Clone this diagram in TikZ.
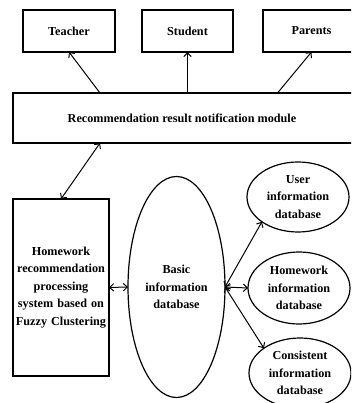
\documentclass[tikz,border=0pt]{standalone}
\usepackage{fontspec}
\setmainfont{Liberation Serif}
\usetikzlibrary{shapes.geometric,arrows.meta}
\tikzset{
  lbl/.style={font=\bfseries\fontsize{12.2}{17.4}\selectfont, align=center},
  rbox/.style={lbl, draw, line width=1.2pt, rectangle, inner sep=0pt, outer sep=0pt},
  ebox/.style={lbl, draw, line width=1.2pt, ellipse, inner sep=0pt, outer sep=0pt},
  arr/.style={line width=1pt, -{Straight Barb[length=4pt,width=7.5pt]}},
  darr/.style={line width=1pt, {Straight Barb[length=4pt,width=7.5pt]}-{Straight Barb[length=4pt,width=7.5pt]}}
}
\begin{document}
\begin{tikzpicture}[x=1pt,y=-1pt]
\useasboundingbox (0,0) rectangle (351,403);
\clip (0,0) rectangle (351,403);
\fill[white] (0,0) rectangle (351,403);
\node[rbox, minimum width=92pt, minimum height=42pt] (teacher) at (69,31) {Teacher};
\node[rbox, minimum width=91pt, minimum height=42pt] (student) at (187.5,31) {Student};
\node[rbox, minimum width=97pt, minimum height=42pt] (parents) at (311.5,31) {Parents};
\node[rbox, minimum width=347pt, minimum height=50pt, anchor=north west] (mod) at (13,93) {};
\node[lbl] (modtext) at (182,118) {Recommendation result notification module};
\node[rbox, minimum width=96pt, minimum height=177pt, text width=94pt] (hw) at (61,287.5)
  {Homework\\recommendation\\processing\\system based on\\Fuzzy Clustering};
\node[ebox, minimum width=97pt, minimum height=221pt] (basic) at (176.5,287)
  {Basic\\information\\database};
\node[ebox, minimum width=102pt, minimum height=70pt] (user) at (298,197)
  {User\\information\\database};
\node[ebox, minimum width=102pt, minimum height=72pt] (hwinfo) at (299,288)
  {Homework\\information\\database};
\node[ebox, minimum width=102pt, minimum height=70pt] (cons) at (300,373)
  {Consistent\\information\\database};

\draw[arr] ([xshift=31pt]teacher.south |- mod.north) -- (teacher.south);
\draw[arr] (student.south |- mod.north) -- (student.south);
\draw[arr] ([xshift=-34pt]parents.south |- mod.north) -- (parents.south);
\draw[darr] ([xshift=39pt]hw.north |- mod.south) -- (hw.north);
\draw[darr] (hw.east) -- (basic.west);
\draw[darr] (basic.east) -- (user.south west);
\draw[darr] (basic.east) -- (hwinfo.west);
\draw[darr] (basic.east) -- (cons.north west);
\end{tikzpicture}
\end{document}
